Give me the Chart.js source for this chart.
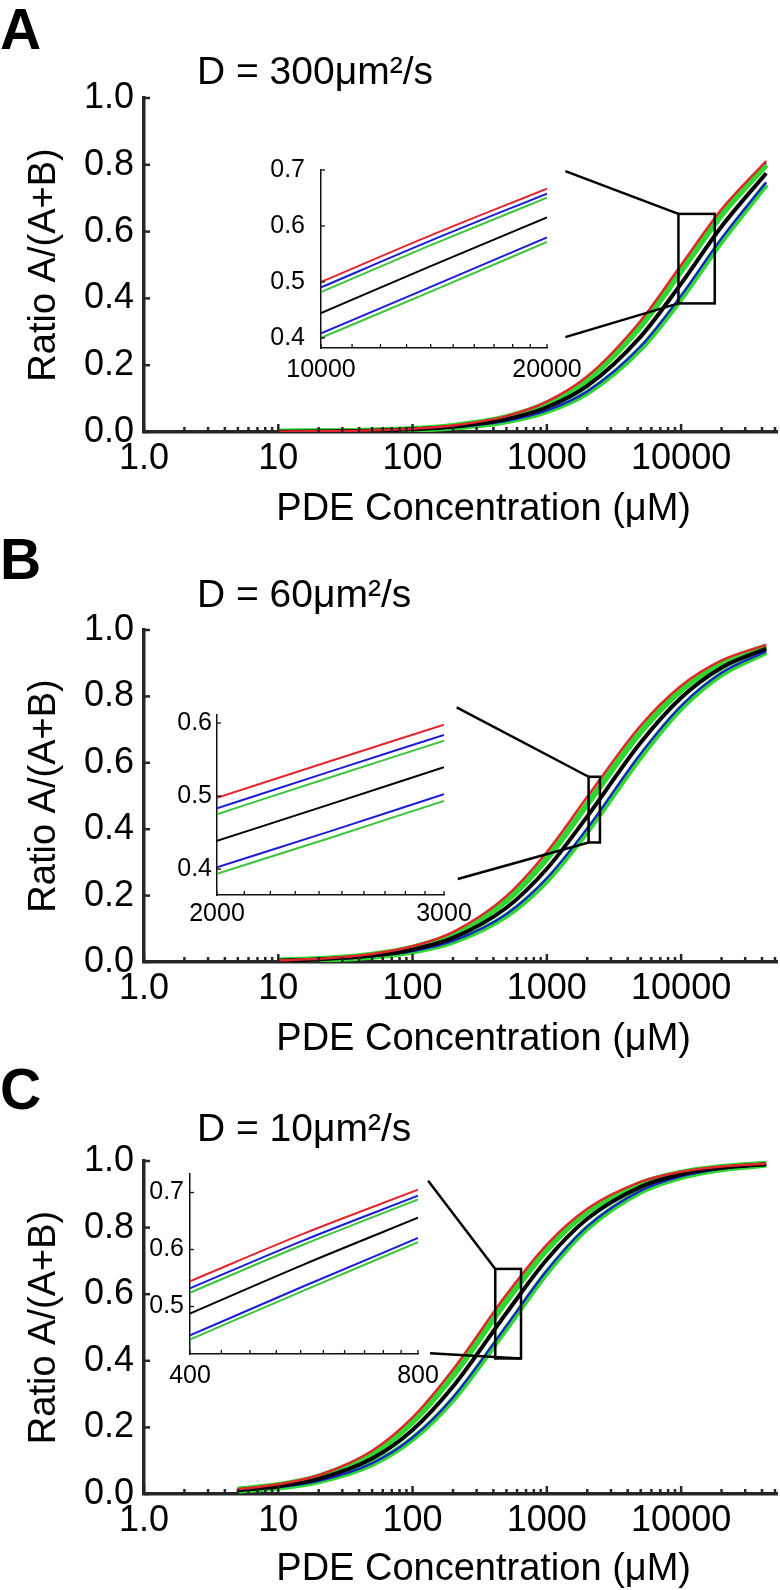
<!DOCTYPE html>
<html>
<head>
<meta charset="utf-8">
<script src="https://cdn.jsdelivr.net/npm/chart.js@4.4.1/dist/chart.umd.min.js"></script>
<style>
  body { margin: 0; background: #fff; }
  #fig { position: relative; width: 780px; height: 1590px; font-family: "Liberation Sans", Arial, Helvetica, sans-serif; color: #000; }
  .panel { position: absolute; left: 0; width: 780px; height: 530px; }
  .panel canvas { position: absolute; left: 0; top: 0; }
  .letter { position: absolute; left: 0; font-weight: bold; font-size: 57px; line-height: 57px; z-index: 3; }
  .dlabel { position: absolute; left: 197px; font-size: 39px; line-height: 39px; z-index: 3; white-space: nowrap; }
</style>
</head>
<body>
<div id="fig"></div>
<script>
// ================= DATA =================
// main x positions (PDE concentration, µM)
const xMainAB = [10, 20, 50, 100, 200, 500, 1000, 2000, 5000, 10000, 20000, 43000];
const xMainC  = [5, 10, 20, 50, 100, 200, 500, 1000, 2000, 5000, 10000, 20000, 43000];

// Panel A (D = 300 µm²/s)
const A_red    = [0.001, 0.002, 0.005, 0.0099, 0.0196, 0.0476, 0.0909, 0.1667, 0.3333, 0.5, 0.6667, 0.8113];
const A_blue1  = [0.001, 0.0019, 0.0048, 0.0095, 0.0189, 0.0459, 0.0877, 0.1613, 0.3247, 0.4902, 0.6579, 0.8052];
const A_green1 = [0.0009, 0.0019, 0.0046, 0.0092, 0.0183, 0.0444, 0.0851, 0.1569, 0.3175, 0.4819, 0.6504, 0.8];
const A_black  = [0.0008, 0.0016, 0.004, 0.0079, 0.0157, 0.0385, 0.0741, 0.1379, 0.2857, 0.4444, 0.6154, 0.7748];
const A_blue2  = [0.0007, 0.0014, 0.0034, 0.0068, 0.0136, 0.0333, 0.0645, 0.1212, 0.2564, 0.4082, 0.5797, 0.7478];
const A_green2 = [0.0007, 0.0013, 0.0033, 0.0066, 0.0132, 0.0323, 0.0625, 0.1176, 0.25, 0.4, 0.5714, 0.7414];

// Panel B (D = 60 µm²/s)
const B_red    = [0.0049, 0.0098, 0.0242, 0.0472, 0.0901, 0.1984, 0.3311, 0.4975, 0.7123, 0.8319, 0.9083, 0.9551];
const B_blue1  = [0.0047, 0.0093, 0.0228, 0.0446, 0.0855, 0.1894, 0.3185, 0.4831, 0.7003, 0.8237, 0.9033, 0.9526];
const B_green1 = [0.0045, 0.009, 0.0221, 0.0433, 0.083, 0.1845, 0.3115, 0.4751, 0.6935, 0.819, 0.9005, 0.9511];
const B_black  = [0.0039, 0.0078, 0.0192, 0.0376, 0.0725, 0.1634, 0.2809, 0.4386, 0.6614, 0.7962, 0.8865, 0.9438];
const B_blue2  = [0.0034, 0.0067, 0.0166, 0.0326, 0.0631, 0.1441, 0.2519, 0.4024, 0.6274, 0.771, 0.8707, 0.9354];
const B_green2 = [0.0032, 0.0065, 0.016, 0.0314, 0.061, 0.1397, 0.2451, 0.3937, 0.6188, 0.7645, 0.8666, 0.9332];

// Panel C (D = 10 µm²/s)
const C_red    = [0.0147, 0.029, 0.0563, 0.1299, 0.2299, 0.3738, 0.5988, 0.7491, 0.8565, 0.9372, 0.9676, 0.9835, 0.9923];
const C_blue1  = [0.014, 0.0276, 0.0538, 0.1244, 0.2212, 0.3623, 0.5869, 0.7396, 0.8503, 0.9342, 0.966, 0.9827, 0.9919];
const C_green1 = [0.0136, 0.0268, 0.0522, 0.1211, 0.216, 0.3552, 0.5794, 0.7337, 0.8464, 0.9323, 0.965, 0.9822, 0.9916];
const C_black  = [0.0118, 0.0233, 0.0455, 0.1064, 0.1923, 0.3226, 0.5435, 0.7042, 0.8264, 0.9225, 0.9597, 0.9794, 0.9903];
const C_blue2  = [0.0101, 0.02, 0.0392, 0.0926, 0.1695, 0.2899, 0.5051, 0.6711, 0.8032, 0.9107, 0.9533, 0.9761, 0.9887];
const C_green2 = [0.0098, 0.0194, 0.0381, 0.0901, 0.1653, 0.2837, 0.4975, 0.6645, 0.7984, 0.9083, 0.9519, 0.9754, 0.9884];

// Insets
const insetXA = [10000, 14000, 20000];
const iA_red    = [0.5, 0.5833, 0.6667];
const iA_blue1  = [0.4902, 0.5738, 0.6579];
const iA_green1 = [0.4819, 0.5657, 0.6504];
const iA_black  = [0.4444, 0.5283, 0.6154];
const iA_blue2  = [0.4082, 0.4912, 0.5797];
const iA_green2 = [0.4, 0.4828, 0.5714];

const insetXB = [2000, 2450, 3000];
const iB_red    = [0.4975, 0.5481, 0.5976];
const iB_blue1  = [0.4831, 0.5338, 0.5837];
const iB_green1 = [0.4751, 0.5258, 0.5758];
const iB_black  = [0.4386, 0.489, 0.5396];
const iB_blue2  = [0.4024, 0.452, 0.5025];
const iB_green2 = [0.3937, 0.443, 0.4934];

const insetXC = [400, 565, 800];
const iC_red    = [0.5442, 0.6278, 0.7048];
const iC_blue1  = [0.5319, 0.6161, 0.6944];
const iC_green1 = [0.5242, 0.6088, 0.6879];
const iC_black  = [0.4878, 0.5736, 0.6557];
const iC_blue2  = [0.4494, 0.5355, 0.6202];
const iC_green2 = [0.442, 0.528, 0.613];

// Tick values / labels
const xTickValues = [1, 10, 100, 1000, 10000];
const xTickLabels = ['1.0', '10', '100', '1000', '10000'];
const yTickValues = [0, 0.2, 0.4, 0.6, 0.8, 1.0];
const yTickLabels = ['0.0', '0.2', '0.4', '0.6', '0.8', '1.0'];

const insetYTicksA = [0.4, 0.5, 0.6, 0.7];
const insetYTicksB = [0.4, 0.5, 0.6];
const insetYTicksC = [0.5, 0.6, 0.7];
const insetXLabelValsA = [10000, 20000], insetXLabelsA = ['10000', '20000'];
const insetXLabelValsB = [2000, 3000],   insetXLabelsB = ['2000', '3000'];
const insetXLabelValsC = [400, 800],     insetXLabelsC = ['400', '800'];

// Zoom boxes (data coordinates of the main chart) and connector start points
const zoomBoxA = { x: [9550, 17800], y: [0.385, 0.653] };
const zoomBoxB = { x: [2046, 2485], y: [0.36, 0.558] };
const zoomBoxC = { x: [413, 642], y: [0.407, 0.676] };
const linksA = [{ from: [1373, 0.781], to: [0, 1] }, { from: [1373, 0.284], to: [0, 0] }];
const linksB = [{ from: [213, 0.767], to: [0, 1] }, { from: [217, 0.25], to: [0, 0] }];
const linksC = [{ from: [130.6, 0.941], to: [0, 1] }, { from: [135, 0.4225], to: [1, 0] }];

const panelLetters = ['A', 'B', 'C'];
const panelTitles = ['D = 300\u03bcm\u00b2/s', 'D = 60\u03bcm\u00b2/s', 'D = 10\u03bcm\u00b2/s'];
const xAxisTitle = 'PDE Concentration (\u03bcM)';
const yAxisTitle = 'Ratio A/(A+B)';

// ================= STYLE =================
const FONT = '"Liberation Sans", Arial, Helvetica, sans-serif';
Chart.defaults.font.family = FONT;
Chart.defaults.color = '#000';
const AXIS = '#262626';
const RED = '#e3262e', BLUE = '#1c1cd6', GREEN = '#2ed82e', GREEN_IN = '#3cc43c', BLACK = '#000000';

function logMinorTicks(min, max) {
  const out = [];
  for (let p = 1; p <= 1e5; p *= 10) for (let m = 1; m <= 9; m++) { const v = m * p; if (v >= min && v <= max) out.push(v); }
  return out;
}
function stepTicks(a, b, s) { const out = []; for (let v = a; v <= b + 1e-9; v += s) out.push(v); return out; }
function lookup(vals, labels, v) {
  for (let i = 0; i < vals.length; i++) if (Math.abs(vals[i] - v) < 1e-6 * Math.max(1, vals[i])) return labels[i];
  return '';
}

function mainSeries(vals) {
  // vals: [red, blue1, green1, black, blue2, green2]
  const style = [
    { c: RED, w: 2.5, o: 0 }, { c: BLUE, w: 2.2, o: 5 }, { c: GREEN, w: 6, o: 4 },
    { c: BLACK, w: 4, o: 1 }, { c: BLUE, w: 2.2, o: 2 }, { c: GREEN, w: 6, o: 3 }
  ];
  return vals.map((v, i) => ({ values: v, color: style[i].c, width: style[i].w, order: style[i].o }));
}
function insetSeries(vals) {
  const cols = [RED, BLUE, GREEN_IN, BLACK, BLUE, GREEN_IN];
  return vals.map((v, i) => ({ values: v, color: cols[i], width: 2, order: i }));
}

function buildDatasets(xs, series) {
  return series.map(s => ({
    data: xs.map((x, i) => ({ x: x, y: s.values[i] })),
    borderColor: s.color, borderWidth: s.width, order: s.order,
    pointRadius: 0, fill: false, cubicInterpolationMode: 'monotone'
  }));
}

function makeMain(canvas, cfg) {
  const deco = {
    id: 'deco',
    afterDatasetsDraw(chart) {
      const { ctx, scales: { x, y } } = chart;
      ctx.save();
      ctx.strokeStyle = '#000'; ctx.lineWidth = 2.5;
      const bx = cfg.box.x.map(v => x.getPixelForValue(v));
      const by = cfg.box.y.map(v => y.getPixelForValue(v));
      ctx.strokeRect(bx[0], by[1], bx[1] - bx[0], by[0] - by[1]);
      cfg.links.forEach(l => {
        ctx.beginPath();
        ctx.moveTo(x.getPixelForValue(l.from[0]), y.getPixelForValue(l.from[1]));
        ctx.lineTo(bx[l.to[0]], by[l.to[1]]);
        ctx.stroke();
      });
      ctx.restore();
    },
    afterDraw(chart) {
      const { ctx, scales: { x, y }, chartArea } = chart;
      ctx.save();
      ctx.strokeStyle = AXIS; ctx.lineWidth = 2.5;
      x.ticks.forEach(t => {
        const px = x.getPixelForValue(t.value);
        const major = xTickValues.some(v => Math.abs(v - t.value) < 1e-6 * v);
        ctx.beginPath(); ctx.moveTo(px, x.top); ctx.lineTo(px, x.top - (major ? 8 : 5)); ctx.stroke();
      });
      y.ticks.forEach(t => {
        const py = y.getPixelForValue(t.value);
        ctx.beginPath(); ctx.moveTo(y.right, py); ctx.lineTo(y.right + 6, py); ctx.stroke();
      });
      ctx.fillStyle = '#000';
      ctx.font = '38px ' + FONT;
      ctx.textAlign = 'center'; ctx.textBaseline = 'alphabetic';
      ctx.fillText(xAxisTitle, (chartArea.left + chartArea.right) / 2 + 23, x.bottom - 10);
      ctx.restore();
    }
  };
  return new Chart(canvas, {
    type: 'line',
    data: { datasets: buildDatasets(cfg.xs, cfg.series) },
    options: {
      responsive: false, animation: false, devicePixelRatio: 1,
      layout: { padding: { top: cfg.top, right: 2, left: 0, bottom: 0 } },
      plugins: { legend: { display: false }, tooltip: { enabled: false } },
      scales: {
        x: {
          type: 'logarithmic', min: 1, max: 52000,
          grid: { display: false, drawTicks: false },
          border: { display: true, color: AXIS, width: 3.5 },
          afterBuildTicks: s => { s.ticks = logMinorTicks(1, 52000).map(v => ({ value: v })); },
          afterFit: s => { s.height = 530 - cfg.bottom; },
          ticks: {
            autoSkip: false, maxRotation: 0, minRotation: 0, padding: 5,
            font: { size: 36 }, color: '#000',
            callback: v => lookup(xTickValues, xTickLabels, v)
          }
        },
        y: {
          type: 'linear', min: 0, max: 1,
          grid: { display: false, drawTicks: false },
          border: { display: true, color: AXIS, width: 3.5 },
          afterBuildTicks: s => { s.ticks = yTickValues.map(v => ({ value: v })); },
          afterFit: s => { s.width = 144; },
          ticks: {
            padding: 10, font: { size: 36 }, color: '#000',
            callback: v => lookup(yTickValues, yTickLabels, v)
          },
          title: { display: true, text: yAxisTitle, font: { size: 38 }, color: '#000', padding: { top: 22, bottom: 0 } }
        }
      }
    },
    plugins: [deco]
  });
}

function makeInset(canvas, cfg) {
  const tk = {
    id: 'insetTicks',
    afterDraw(chart) {
      const { ctx, scales: { x, y } } = chart;
      ctx.save();
      ctx.strokeStyle = '#111'; ctx.lineWidth = 1.3;
      x.ticks.forEach(t => {
        const px = x.getPixelForValue(t.value);
        ctx.beginPath(); ctx.moveTo(px, x.top); ctx.lineTo(px, x.top - 4); ctx.stroke();
      });
      y.ticks.forEach(t => {
        const py = y.getPixelForValue(t.value);
        ctx.beginPath(); ctx.moveTo(y.right, py); ctx.lineTo(y.right + 4, py); ctx.stroke();
      });
      ctx.restore();
    }
  };
  return new Chart(canvas, {
    type: 'line',
    data: { datasets: buildDatasets(cfg.xs, cfg.series) },
    options: {
      responsive: false, animation: false, devicePixelRatio: 1,
      layout: { padding: { top: cfg.area.top, right: 780 - cfg.area.right, left: 0, bottom: 0 } },
      plugins: { legend: { display: false }, tooltip: { enabled: false } },
      scales: {
        x: {
          type: 'logarithmic', min: cfg.xs[0], max: cfg.xs[cfg.xs.length - 1],
          grid: { display: false, drawTicks: false },
          border: { display: true, color: '#111', width: 1.5 },
          afterBuildTicks: s => { s.ticks = cfg.xTicks.map(v => ({ value: v })); },
          afterFit: s => { s.height = 530 - cfg.area.bottom; },
          ticks: {
            autoSkip: false, maxRotation: 0, minRotation: 0, padding: cfg.xPad,
            font: { size: 25 }, color: '#000',
            callback: v => lookup(cfg.xLabelVals, cfg.xLabels, v)
          }
        },
        y: {
          type: 'linear', min: cfg.yMin, max: cfg.yMax,
          grid: { display: false, drawTicks: false },
          border: { display: true, color: '#111', width: 1.5 },
          afterBuildTicks: s => { s.ticks = cfg.yTicks.map(v => ({ value: v })); },
          afterFit: s => { s.width = cfg.area.left; },
          ticks: {
            padding: cfg.yPad, font: { size: 25 }, color: '#000',
            callback: v => v.toFixed(1)
          }
        }
      }
    },
    plugins: [tk]
  });
}

// ================= BUILD =================
const fig = document.getElementById('fig');
const panels = [
  {
    top: 0, letterTop: 1, titleTop: 51,
    main: { xs: xMainAB, series: mainSeries([A_red, A_blue1, A_green1, A_black, A_blue2, A_green2]), top: 98, bottom: 432, box: zoomBoxA, links: linksA },
    inset: { xs: insetXA, series: insetSeries([iA_red, iA_blue1, iA_green1, iA_black, iA_blue2, iA_green2]),
             area: { left: 321, right: 547, top: 170, bottom: 348 }, yMin: 0.382, yMax: 0.7, yTicks: insetYTicksA,
             xTicks: stepTicks(10000, 20000, 1000), xLabelVals: insetXLabelValsA, xLabels: insetXLabelsA, xPad: 7, yPad: 16 }
  },
  {
    top: 530, letterTop: 1, titleTop: 44,
    main: { xs: xMainAB, series: mainSeries([B_red, B_blue1, B_green1, B_black, B_blue2, B_green2]), top: 100, bottom: 432, box: zoomBoxB, links: linksB },
    inset: { xs: insetXB, series: insetSeries([iB_red, iB_blue1, iB_green1, iB_black, iB_blue2, iB_green2]),
             area: { left: 217, right: 444, top: 185, bottom: 365 }, yMin: 0.3645, yMax: 0.611, yTicks: insetYTicksB,
             xTicks: stepTicks(2000, 3000, 100), xLabelVals: insetXLabelValsB, xLabels: insetXLabelsB, xPad: 4, yPad: 5 }
  },
  {
    top: 1060, letterTop: 1, titleTop: 48,
    main: { xs: xMainC, series: mainSeries([C_red, C_blue1, C_green1, C_black, C_blue2, C_green2]), top: 101, bottom: 434, box: zoomBoxC, links: linksC },
    inset: { xs: insetXC, series: insetSeries([iC_red, iC_blue1, iC_green1, iC_black, iC_blue2, iC_green2]),
             area: { left: 190, right: 418, top: 114, bottom: 294 }, yMin: 0.4167, yMax: 0.7325, yTicks: insetYTicksC,
             xTicks: stepTicks(400, 800, 40), xLabelVals: insetXLabelValsC, xLabels: insetXLabelsC, xPad: 7, yPad: 6 }
  }
];

panels.forEach((p, i) => {
  const div = document.createElement('div');
  div.className = 'panel';
  div.style.top = p.top + 'px';
  const c1 = document.createElement('canvas'); c1.width = 780; c1.height = 530;
  const c2 = document.createElement('canvas'); c2.width = 780; c2.height = 530;
  div.appendChild(c1); div.appendChild(c2);
  const L = document.createElement('div'); L.className = 'letter'; L.style.top = p.letterTop + 'px'; L.textContent = panelLetters[i];
  const T = document.createElement('div'); T.className = 'dlabel'; T.style.top = p.titleTop + 'px'; T.textContent = panelTitles[i];
  div.appendChild(L); div.appendChild(T);
  fig.appendChild(div);
  makeMain(c1, p.main);
  makeInset(c2, p.inset);
});
</script>
</body>
</html>
